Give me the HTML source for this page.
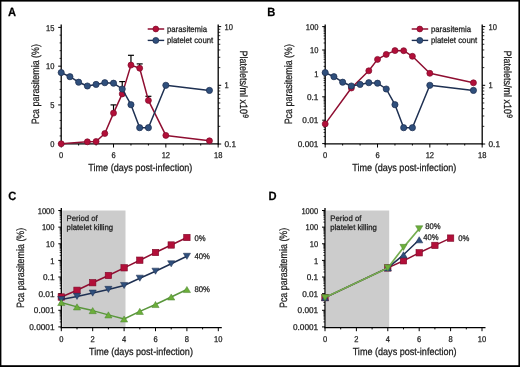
<!DOCTYPE html>
<html><head><meta charset="utf-8"><style>html,body{margin:0;padding:0;background:#fff;width:520px;height:367px;overflow:hidden}svg{display:block;will-change:transform}</style></head><body>
<svg width="520" height="367" viewBox="0 0 520 367">
<rect x="0" y="0" width="520" height="367" fill="#fff"/>
<rect x="0" y="0" width="520" height="1.6" fill="#000"/>
<rect x="0" y="0" width="1.4" height="367" fill="#000"/>
<rect x="518.4" y="0" width="1.6" height="367" fill="#000"/>
<rect x="0" y="365.2" width="520" height="1.8" fill="#000"/>
<text x="0" y="0" transform="translate(8.00,16.20) scale(0.93,1)" font-size="12" text-anchor="start" fill="#000" font-family="Liberation Sans, sans-serif" stroke="#1a1a1a" stroke-width="0.25" text-rendering="geometricPrecision" font-weight="bold">A</text>
<text x="0" y="0" transform="translate(267.20,16.20) scale(0.93,1)" font-size="12" text-anchor="start" fill="#000" font-family="Liberation Sans, sans-serif" stroke="#1a1a1a" stroke-width="0.25" text-rendering="geometricPrecision" font-weight="bold">B</text>
<text x="0" y="0" transform="translate(8.20,200.00) scale(0.93,1)" font-size="12" text-anchor="start" fill="#000" font-family="Liberation Sans, sans-serif" stroke="#1a1a1a" stroke-width="0.25" text-rendering="geometricPrecision" font-weight="bold">C</text>
<text x="0" y="0" transform="translate(268.60,200.00) scale(0.93,1)" font-size="12" text-anchor="start" fill="#000" font-family="Liberation Sans, sans-serif" stroke="#1a1a1a" stroke-width="0.25" text-rendering="geometricPrecision" font-weight="bold">D</text>
<line x1="61.20" y1="24.50" x2="61.20" y2="144.50" stroke="#000" stroke-width="1.3"/>
<line x1="60.60" y1="143.90" x2="218.80" y2="143.90" stroke="#000" stroke-width="1.3"/>
<line x1="218.20" y1="24.50" x2="218.20" y2="144.50" stroke="#000" stroke-width="1.3"/>
<line x1="61.20" y1="143.90" x2="61.20" y2="147.50" stroke="#000" stroke-width="1"/>
<line x1="78.64" y1="143.90" x2="78.64" y2="145.50" stroke="#000" stroke-width="1"/>
<line x1="96.08" y1="143.90" x2="96.08" y2="145.50" stroke="#000" stroke-width="1"/>
<line x1="113.52" y1="143.90" x2="113.52" y2="147.50" stroke="#000" stroke-width="1"/>
<line x1="130.96" y1="143.90" x2="130.96" y2="145.50" stroke="#000" stroke-width="1"/>
<line x1="148.40" y1="143.90" x2="148.40" y2="145.50" stroke="#000" stroke-width="1"/>
<line x1="165.84" y1="143.90" x2="165.84" y2="147.50" stroke="#000" stroke-width="1"/>
<line x1="183.28" y1="143.90" x2="183.28" y2="145.50" stroke="#000" stroke-width="1"/>
<line x1="200.72" y1="143.90" x2="200.72" y2="145.50" stroke="#000" stroke-width="1"/>
<line x1="218.16" y1="143.90" x2="218.16" y2="147.50" stroke="#000" stroke-width="1"/>
<text x="0" y="0" transform="translate(61.20,158.30) scale(0.9,1)" font-size="8.4" text-anchor="middle" fill="#1a1a1a" font-family="Liberation Sans, sans-serif" stroke="#1a1a1a" stroke-width="0.25" text-rendering="geometricPrecision" >0</text>
<text x="0" y="0" transform="translate(113.52,158.30) scale(0.9,1)" font-size="8.4" text-anchor="middle" fill="#1a1a1a" font-family="Liberation Sans, sans-serif" stroke="#1a1a1a" stroke-width="0.25" text-rendering="geometricPrecision" >6</text>
<text x="0" y="0" transform="translate(165.84,158.30) scale(0.9,1)" font-size="8.4" text-anchor="middle" fill="#1a1a1a" font-family="Liberation Sans, sans-serif" stroke="#1a1a1a" stroke-width="0.25" text-rendering="geometricPrecision" >12</text>
<text x="0" y="0" transform="translate(218.16,158.30) scale(0.9,1)" font-size="8.4" text-anchor="middle" fill="#1a1a1a" font-family="Liberation Sans, sans-serif" stroke="#1a1a1a" stroke-width="0.25" text-rendering="geometricPrecision" >18</text>
<text x="0" y="0" transform="translate(140.30,171.00) scale(0.89,1)" font-size="10.2" text-anchor="middle" fill="#1a1a1a" font-family="Liberation Sans, sans-serif" stroke="#1a1a1a" stroke-width="0.25" text-rendering="geometricPrecision" >Time (days post-infection)</text>
<line x1="218.20" y1="144.00" x2="221.20" y2="144.00" stroke="#000" stroke-width="1"/>
<line x1="218.20" y1="85.30" x2="221.20" y2="85.30" stroke="#000" stroke-width="1"/>
<line x1="218.20" y1="26.60" x2="221.20" y2="26.60" stroke="#000" stroke-width="1"/>
<line x1="218.20" y1="126.33" x2="220.30" y2="126.33" stroke="#000" stroke-width="0.8"/>
<line x1="218.20" y1="115.99" x2="220.30" y2="115.99" stroke="#000" stroke-width="0.8"/>
<line x1="218.20" y1="108.66" x2="220.30" y2="108.66" stroke="#000" stroke-width="0.8"/>
<line x1="218.20" y1="102.97" x2="220.30" y2="102.97" stroke="#000" stroke-width="0.8"/>
<line x1="218.20" y1="98.32" x2="220.30" y2="98.32" stroke="#000" stroke-width="0.8"/>
<line x1="218.20" y1="94.39" x2="220.30" y2="94.39" stroke="#000" stroke-width="0.8"/>
<line x1="218.20" y1="90.99" x2="220.30" y2="90.99" stroke="#000" stroke-width="0.8"/>
<line x1="218.20" y1="87.99" x2="220.30" y2="87.99" stroke="#000" stroke-width="0.8"/>
<line x1="218.20" y1="67.63" x2="220.30" y2="67.63" stroke="#000" stroke-width="0.8"/>
<line x1="218.20" y1="57.29" x2="220.30" y2="57.29" stroke="#000" stroke-width="0.8"/>
<line x1="218.20" y1="49.96" x2="220.30" y2="49.96" stroke="#000" stroke-width="0.8"/>
<line x1="218.20" y1="44.27" x2="220.30" y2="44.27" stroke="#000" stroke-width="0.8"/>
<line x1="218.20" y1="39.62" x2="220.30" y2="39.62" stroke="#000" stroke-width="0.8"/>
<line x1="218.20" y1="35.69" x2="220.30" y2="35.69" stroke="#000" stroke-width="0.8"/>
<line x1="218.20" y1="32.29" x2="220.30" y2="32.29" stroke="#000" stroke-width="0.8"/>
<line x1="218.20" y1="29.29" x2="220.30" y2="29.29" stroke="#000" stroke-width="0.8"/>
<text x="0" y="0" transform="translate(224.50,29.60) scale(0.9,1)" font-size="8.4" text-anchor="start" fill="#1a1a1a" font-family="Liberation Sans, sans-serif" stroke="#1a1a1a" stroke-width="0.25" text-rendering="geometricPrecision" >10</text>
<text x="0" y="0" transform="translate(224.50,88.30) scale(0.9,1)" font-size="8.4" text-anchor="start" fill="#1a1a1a" font-family="Liberation Sans, sans-serif" stroke="#1a1a1a" stroke-width="0.25" text-rendering="geometricPrecision" >1</text>
<text x="0" y="0" transform="translate(224.50,147.00) scale(0.985,1)" font-size="8.4" text-anchor="start" fill="#1a1a1a" font-family="Liberation Sans, sans-serif" stroke="#1a1a1a" stroke-width="0.25" text-rendering="geometricPrecision" >0.1</text>
<text transform="translate(239.5,84.3) rotate(90) scale(0.85,1)" font-size="10.6" text-anchor="middle" fill="#1a1a1a" font-family="Liberation Sans, sans-serif" stroke="#1a1a1a" stroke-width="0.25" text-rendering="geometricPrecision">Platelets/ml x10<tspan dy="-3.6" dx="0.3" font-size="8">9</tspan></text>
<text transform="translate(39.4,84.2) rotate(-90) scale(0.842,1)" font-size="10.6" text-anchor="middle" fill="#1a1a1a" font-family="Liberation Sans, sans-serif" stroke="#1a1a1a" stroke-width="0.25" text-rendering="geometricPrecision">Pca parasitemia (%)</text>
<line x1="147.70" y1="29.00" x2="164.20" y2="29.00" stroke="#8f0e31" stroke-width="1.5"/>
<circle cx="155.80" cy="29.00" r="2.9000000000000004" fill="#b20f39" stroke="#7e0a2a" stroke-width="0.7"/>
<line x1="147.70" y1="40.40" x2="164.20" y2="40.40" stroke="#1e3052" stroke-width="1.4"/>
<circle cx="155.80" cy="40.40" r="3.0" fill="#2f4f7c" stroke="#1c2c4e" stroke-width="0.7"/>
<text x="0" y="0" transform="translate(166.90,31.90) scale(0.934,1)" font-size="8.35" text-anchor="start" fill="#1a1a1a" font-family="Liberation Sans, sans-serif" stroke="#1a1a1a" stroke-width="0.25" text-rendering="geometricPrecision" >parasitemia</text>
<text x="0" y="0" transform="translate(166.90,43.10) scale(0.934,1)" font-size="8.35" text-anchor="start" fill="#1a1a1a" font-family="Liberation Sans, sans-serif" stroke="#1a1a1a" stroke-width="0.25" text-rendering="geometricPrecision" >platelet count</text>
<line x1="58.20" y1="143.70" x2="61.20" y2="143.70" stroke="#000" stroke-width="1"/>
<line x1="59.60" y1="135.95" x2="61.20" y2="135.95" stroke="#000" stroke-width="0.8"/>
<line x1="59.60" y1="128.19" x2="61.20" y2="128.19" stroke="#000" stroke-width="0.8"/>
<line x1="59.60" y1="120.44" x2="61.20" y2="120.44" stroke="#000" stroke-width="0.8"/>
<line x1="59.60" y1="112.69" x2="61.20" y2="112.69" stroke="#000" stroke-width="0.8"/>
<line x1="58.20" y1="104.93" x2="61.20" y2="104.93" stroke="#000" stroke-width="1"/>
<line x1="59.60" y1="97.18" x2="61.20" y2="97.18" stroke="#000" stroke-width="0.8"/>
<line x1="59.60" y1="89.43" x2="61.20" y2="89.43" stroke="#000" stroke-width="0.8"/>
<line x1="59.60" y1="81.68" x2="61.20" y2="81.68" stroke="#000" stroke-width="0.8"/>
<line x1="59.60" y1="73.92" x2="61.20" y2="73.92" stroke="#000" stroke-width="0.8"/>
<line x1="58.20" y1="66.17" x2="61.20" y2="66.17" stroke="#000" stroke-width="1"/>
<line x1="59.60" y1="58.42" x2="61.20" y2="58.42" stroke="#000" stroke-width="0.8"/>
<line x1="59.60" y1="50.66" x2="61.20" y2="50.66" stroke="#000" stroke-width="0.8"/>
<line x1="59.60" y1="42.91" x2="61.20" y2="42.91" stroke="#000" stroke-width="0.8"/>
<line x1="59.60" y1="35.16" x2="61.20" y2="35.16" stroke="#000" stroke-width="0.8"/>
<line x1="58.20" y1="27.40" x2="61.20" y2="27.40" stroke="#000" stroke-width="1"/>
<text x="0" y="0" transform="translate(54.40,146.80) scale(0.9,1)" font-size="8.4" text-anchor="end" fill="#1a1a1a" font-family="Liberation Sans, sans-serif" stroke="#1a1a1a" stroke-width="0.25" text-rendering="geometricPrecision" >0</text>
<text x="0" y="0" transform="translate(54.40,108.03) scale(0.9,1)" font-size="8.4" text-anchor="end" fill="#1a1a1a" font-family="Liberation Sans, sans-serif" stroke="#1a1a1a" stroke-width="0.25" text-rendering="geometricPrecision" >5</text>
<text x="0" y="0" transform="translate(54.40,69.27) scale(0.9,1)" font-size="8.4" text-anchor="end" fill="#1a1a1a" font-family="Liberation Sans, sans-serif" stroke="#1a1a1a" stroke-width="0.25" text-rendering="geometricPrecision" >10</text>
<text x="0" y="0" transform="translate(54.40,30.50) scale(0.9,1)" font-size="8.4" text-anchor="end" fill="#1a1a1a" font-family="Liberation Sans, sans-serif" stroke="#1a1a1a" stroke-width="0.25" text-rendering="geometricPrecision" >15</text>
<line x1="113.52" y1="113.10" x2="113.52" y2="104.90" stroke="#000" stroke-width="1.2"/>
<line x1="110.52" y1="104.90" x2="116.52" y2="104.90" stroke="#000" stroke-width="1.2"/>
<line x1="122.24" y1="93.90" x2="122.24" y2="81.60" stroke="#000" stroke-width="1.2"/>
<line x1="119.24" y1="81.60" x2="125.24" y2="81.60" stroke="#000" stroke-width="1.2"/>
<line x1="130.96" y1="65.10" x2="130.96" y2="55.30" stroke="#000" stroke-width="1.2"/>
<line x1="127.96" y1="55.30" x2="133.96" y2="55.30" stroke="#000" stroke-width="1.2"/>
<line x1="139.68" y1="68.20" x2="139.68" y2="63.90" stroke="#000" stroke-width="1.2"/>
<line x1="136.68" y1="63.90" x2="142.68" y2="63.90" stroke="#000" stroke-width="1.2"/>
<line x1="148.40" y1="100.40" x2="148.40" y2="96.30" stroke="#000" stroke-width="1.2"/>
<line x1="145.40" y1="96.30" x2="151.40" y2="96.30" stroke="#000" stroke-width="1.2"/>
<polyline fill="none" stroke="#8f0e31" stroke-width="1.5" stroke-linejoin="round" points="61.20,143.80 87.36,141.80 96.08,141.50 104.80,133.50 113.52,113.10 122.24,93.90 130.96,65.10 139.68,68.20 148.40,100.40 165.84,135.40 209.44,140.80"/>
<circle cx="61.20" cy="143.80" r="3.0" fill="#b20f39" stroke="#7e0a2a" stroke-width="0.7"/>
<circle cx="87.36" cy="141.80" r="3.0" fill="#b20f39" stroke="#7e0a2a" stroke-width="0.7"/>
<circle cx="96.08" cy="141.50" r="3.0" fill="#b20f39" stroke="#7e0a2a" stroke-width="0.7"/>
<circle cx="104.80" cy="133.50" r="3.0" fill="#b20f39" stroke="#7e0a2a" stroke-width="0.7"/>
<circle cx="113.52" cy="113.10" r="3.0" fill="#b20f39" stroke="#7e0a2a" stroke-width="0.7"/>
<circle cx="122.24" cy="93.90" r="3.0" fill="#b20f39" stroke="#7e0a2a" stroke-width="0.7"/>
<circle cx="130.96" cy="65.10" r="3.0" fill="#b20f39" stroke="#7e0a2a" stroke-width="0.7"/>
<circle cx="139.68" cy="68.20" r="3.0" fill="#b20f39" stroke="#7e0a2a" stroke-width="0.7"/>
<circle cx="148.40" cy="100.40" r="3.0" fill="#b20f39" stroke="#7e0a2a" stroke-width="0.7"/>
<circle cx="165.84" cy="135.40" r="3.0" fill="#b20f39" stroke="#7e0a2a" stroke-width="0.7"/>
<circle cx="209.44" cy="140.80" r="3.0" fill="#b20f39" stroke="#7e0a2a" stroke-width="0.7"/>
<polyline fill="none" stroke="#1e3052" stroke-width="1.5" stroke-linejoin="round" points="61.20,72.60 69.92,76.70 78.64,82.20 87.36,86.00 96.08,84.40 104.80,82.70 113.52,83.20 122.24,89.00 130.96,104.70 139.68,127.70 148.40,127.70 165.84,85.30 209.44,90.40"/>
<circle cx="61.20" cy="72.60" r="3.1" fill="#2f4f7c" stroke="#1c2c4e" stroke-width="0.7"/>
<circle cx="69.92" cy="76.70" r="3.1" fill="#2f4f7c" stroke="#1c2c4e" stroke-width="0.7"/>
<circle cx="78.64" cy="82.20" r="3.1" fill="#2f4f7c" stroke="#1c2c4e" stroke-width="0.7"/>
<circle cx="87.36" cy="86.00" r="3.1" fill="#2f4f7c" stroke="#1c2c4e" stroke-width="0.7"/>
<circle cx="96.08" cy="84.40" r="3.1" fill="#2f4f7c" stroke="#1c2c4e" stroke-width="0.7"/>
<circle cx="104.80" cy="82.70" r="3.1" fill="#2f4f7c" stroke="#1c2c4e" stroke-width="0.7"/>
<circle cx="113.52" cy="83.20" r="3.1" fill="#2f4f7c" stroke="#1c2c4e" stroke-width="0.7"/>
<circle cx="122.24" cy="89.00" r="3.1" fill="#2f4f7c" stroke="#1c2c4e" stroke-width="0.7"/>
<circle cx="130.96" cy="104.70" r="3.1" fill="#2f4f7c" stroke="#1c2c4e" stroke-width="0.7"/>
<circle cx="139.68" cy="127.70" r="3.1" fill="#2f4f7c" stroke="#1c2c4e" stroke-width="0.7"/>
<circle cx="148.40" cy="127.70" r="3.1" fill="#2f4f7c" stroke="#1c2c4e" stroke-width="0.7"/>
<circle cx="165.84" cy="85.30" r="3.1" fill="#2f4f7c" stroke="#1c2c4e" stroke-width="0.7"/>
<circle cx="209.44" cy="90.40" r="3.1" fill="#2f4f7c" stroke="#1c2c4e" stroke-width="0.7"/>
<line x1="325.20" y1="24.50" x2="325.20" y2="144.50" stroke="#000" stroke-width="1.3"/>
<line x1="324.60" y1="143.90" x2="482.80" y2="143.90" stroke="#000" stroke-width="1.3"/>
<line x1="482.20" y1="24.50" x2="482.20" y2="144.50" stroke="#000" stroke-width="1.3"/>
<line x1="325.20" y1="143.90" x2="325.20" y2="147.50" stroke="#000" stroke-width="1"/>
<line x1="342.64" y1="143.90" x2="342.64" y2="145.50" stroke="#000" stroke-width="1"/>
<line x1="360.08" y1="143.90" x2="360.08" y2="145.50" stroke="#000" stroke-width="1"/>
<line x1="377.52" y1="143.90" x2="377.52" y2="147.50" stroke="#000" stroke-width="1"/>
<line x1="394.96" y1="143.90" x2="394.96" y2="145.50" stroke="#000" stroke-width="1"/>
<line x1="412.40" y1="143.90" x2="412.40" y2="145.50" stroke="#000" stroke-width="1"/>
<line x1="429.84" y1="143.90" x2="429.84" y2="147.50" stroke="#000" stroke-width="1"/>
<line x1="447.28" y1="143.90" x2="447.28" y2="145.50" stroke="#000" stroke-width="1"/>
<line x1="464.72" y1="143.90" x2="464.72" y2="145.50" stroke="#000" stroke-width="1"/>
<line x1="482.16" y1="143.90" x2="482.16" y2="147.50" stroke="#000" stroke-width="1"/>
<text x="0" y="0" transform="translate(325.20,158.30) scale(0.9,1)" font-size="8.4" text-anchor="middle" fill="#1a1a1a" font-family="Liberation Sans, sans-serif" stroke="#1a1a1a" stroke-width="0.25" text-rendering="geometricPrecision" >0</text>
<text x="0" y="0" transform="translate(377.52,158.30) scale(0.9,1)" font-size="8.4" text-anchor="middle" fill="#1a1a1a" font-family="Liberation Sans, sans-serif" stroke="#1a1a1a" stroke-width="0.25" text-rendering="geometricPrecision" >6</text>
<text x="0" y="0" transform="translate(429.84,158.30) scale(0.9,1)" font-size="8.4" text-anchor="middle" fill="#1a1a1a" font-family="Liberation Sans, sans-serif" stroke="#1a1a1a" stroke-width="0.25" text-rendering="geometricPrecision" >12</text>
<text x="0" y="0" transform="translate(482.16,158.30) scale(0.9,1)" font-size="8.4" text-anchor="middle" fill="#1a1a1a" font-family="Liberation Sans, sans-serif" stroke="#1a1a1a" stroke-width="0.25" text-rendering="geometricPrecision" >18</text>
<text x="0" y="0" transform="translate(404.30,171.00) scale(0.89,1)" font-size="10.2" text-anchor="middle" fill="#1a1a1a" font-family="Liberation Sans, sans-serif" stroke="#1a1a1a" stroke-width="0.25" text-rendering="geometricPrecision" >Time (days post-infection)</text>
<line x1="482.20" y1="144.00" x2="485.20" y2="144.00" stroke="#000" stroke-width="1"/>
<line x1="482.20" y1="85.30" x2="485.20" y2="85.30" stroke="#000" stroke-width="1"/>
<line x1="482.20" y1="26.60" x2="485.20" y2="26.60" stroke="#000" stroke-width="1"/>
<line x1="482.20" y1="126.33" x2="484.30" y2="126.33" stroke="#000" stroke-width="0.8"/>
<line x1="482.20" y1="115.99" x2="484.30" y2="115.99" stroke="#000" stroke-width="0.8"/>
<line x1="482.20" y1="108.66" x2="484.30" y2="108.66" stroke="#000" stroke-width="0.8"/>
<line x1="482.20" y1="102.97" x2="484.30" y2="102.97" stroke="#000" stroke-width="0.8"/>
<line x1="482.20" y1="98.32" x2="484.30" y2="98.32" stroke="#000" stroke-width="0.8"/>
<line x1="482.20" y1="94.39" x2="484.30" y2="94.39" stroke="#000" stroke-width="0.8"/>
<line x1="482.20" y1="90.99" x2="484.30" y2="90.99" stroke="#000" stroke-width="0.8"/>
<line x1="482.20" y1="87.99" x2="484.30" y2="87.99" stroke="#000" stroke-width="0.8"/>
<line x1="482.20" y1="67.63" x2="484.30" y2="67.63" stroke="#000" stroke-width="0.8"/>
<line x1="482.20" y1="57.29" x2="484.30" y2="57.29" stroke="#000" stroke-width="0.8"/>
<line x1="482.20" y1="49.96" x2="484.30" y2="49.96" stroke="#000" stroke-width="0.8"/>
<line x1="482.20" y1="44.27" x2="484.30" y2="44.27" stroke="#000" stroke-width="0.8"/>
<line x1="482.20" y1="39.62" x2="484.30" y2="39.62" stroke="#000" stroke-width="0.8"/>
<line x1="482.20" y1="35.69" x2="484.30" y2="35.69" stroke="#000" stroke-width="0.8"/>
<line x1="482.20" y1="32.29" x2="484.30" y2="32.29" stroke="#000" stroke-width="0.8"/>
<line x1="482.20" y1="29.29" x2="484.30" y2="29.29" stroke="#000" stroke-width="0.8"/>
<text x="0" y="0" transform="translate(488.50,29.60) scale(0.9,1)" font-size="8.4" text-anchor="start" fill="#1a1a1a" font-family="Liberation Sans, sans-serif" stroke="#1a1a1a" stroke-width="0.25" text-rendering="geometricPrecision" >10</text>
<text x="0" y="0" transform="translate(488.50,88.30) scale(0.9,1)" font-size="8.4" text-anchor="start" fill="#1a1a1a" font-family="Liberation Sans, sans-serif" stroke="#1a1a1a" stroke-width="0.25" text-rendering="geometricPrecision" >1</text>
<text x="0" y="0" transform="translate(488.50,147.00) scale(0.985,1)" font-size="8.4" text-anchor="start" fill="#1a1a1a" font-family="Liberation Sans, sans-serif" stroke="#1a1a1a" stroke-width="0.25" text-rendering="geometricPrecision" >0.1</text>
<text transform="translate(503.5,84.3) rotate(90) scale(0.85,1)" font-size="10.6" text-anchor="middle" fill="#1a1a1a" font-family="Liberation Sans, sans-serif" stroke="#1a1a1a" stroke-width="0.25" text-rendering="geometricPrecision">Platelets/ml x10<tspan dy="-3.6" dx="0.3" font-size="8">9</tspan></text>
<text transform="translate(292.4,84.2) rotate(-90) scale(0.842,1)" font-size="10.6" text-anchor="middle" fill="#1a1a1a" font-family="Liberation Sans, sans-serif" stroke="#1a1a1a" stroke-width="0.25" text-rendering="geometricPrecision">Pca parasitemia (%)</text>
<line x1="411.70" y1="29.00" x2="428.20" y2="29.00" stroke="#8f0e31" stroke-width="1.5"/>
<circle cx="419.80" cy="29.00" r="2.9000000000000004" fill="#b20f39" stroke="#7e0a2a" stroke-width="0.7"/>
<line x1="411.70" y1="40.40" x2="428.20" y2="40.40" stroke="#1e3052" stroke-width="1.4"/>
<circle cx="419.80" cy="40.40" r="3.0" fill="#2f4f7c" stroke="#1c2c4e" stroke-width="0.7"/>
<text x="0" y="0" transform="translate(430.90,31.90) scale(0.934,1)" font-size="8.35" text-anchor="start" fill="#1a1a1a" font-family="Liberation Sans, sans-serif" stroke="#1a1a1a" stroke-width="0.25" text-rendering="geometricPrecision" >parasitemia</text>
<text x="0" y="0" transform="translate(430.90,43.10) scale(0.934,1)" font-size="8.35" text-anchor="start" fill="#1a1a1a" font-family="Liberation Sans, sans-serif" stroke="#1a1a1a" stroke-width="0.25" text-rendering="geometricPrecision" >platelet count</text>
<line x1="322.20" y1="143.60" x2="325.20" y2="143.60" stroke="#000" stroke-width="1"/>
<line x1="323.60" y1="136.56" x2="325.20" y2="136.56" stroke="#000" stroke-width="0.8"/>
<line x1="323.60" y1="132.44" x2="325.20" y2="132.44" stroke="#000" stroke-width="0.8"/>
<line x1="323.60" y1="129.51" x2="325.20" y2="129.51" stroke="#000" stroke-width="0.8"/>
<line x1="323.60" y1="127.24" x2="325.20" y2="127.24" stroke="#000" stroke-width="0.8"/>
<line x1="323.60" y1="125.39" x2="325.20" y2="125.39" stroke="#000" stroke-width="0.8"/>
<line x1="323.60" y1="123.82" x2="325.20" y2="123.82" stroke="#000" stroke-width="0.8"/>
<line x1="323.60" y1="122.47" x2="325.20" y2="122.47" stroke="#000" stroke-width="0.8"/>
<line x1="323.60" y1="121.27" x2="325.20" y2="121.27" stroke="#000" stroke-width="0.8"/>
<line x1="322.20" y1="120.20" x2="325.20" y2="120.20" stroke="#000" stroke-width="1"/>
<line x1="323.60" y1="113.16" x2="325.20" y2="113.16" stroke="#000" stroke-width="0.8"/>
<line x1="323.60" y1="109.04" x2="325.20" y2="109.04" stroke="#000" stroke-width="0.8"/>
<line x1="323.60" y1="106.11" x2="325.20" y2="106.11" stroke="#000" stroke-width="0.8"/>
<line x1="323.60" y1="103.84" x2="325.20" y2="103.84" stroke="#000" stroke-width="0.8"/>
<line x1="323.60" y1="101.99" x2="325.20" y2="101.99" stroke="#000" stroke-width="0.8"/>
<line x1="323.60" y1="100.42" x2="325.20" y2="100.42" stroke="#000" stroke-width="0.8"/>
<line x1="323.60" y1="99.07" x2="325.20" y2="99.07" stroke="#000" stroke-width="0.8"/>
<line x1="323.60" y1="97.87" x2="325.20" y2="97.87" stroke="#000" stroke-width="0.8"/>
<line x1="322.20" y1="96.80" x2="325.20" y2="96.80" stroke="#000" stroke-width="1"/>
<line x1="323.60" y1="89.76" x2="325.20" y2="89.76" stroke="#000" stroke-width="0.8"/>
<line x1="323.60" y1="85.64" x2="325.20" y2="85.64" stroke="#000" stroke-width="0.8"/>
<line x1="323.60" y1="82.71" x2="325.20" y2="82.71" stroke="#000" stroke-width="0.8"/>
<line x1="323.60" y1="80.44" x2="325.20" y2="80.44" stroke="#000" stroke-width="0.8"/>
<line x1="323.60" y1="78.59" x2="325.20" y2="78.59" stroke="#000" stroke-width="0.8"/>
<line x1="323.60" y1="77.02" x2="325.20" y2="77.02" stroke="#000" stroke-width="0.8"/>
<line x1="323.60" y1="75.67" x2="325.20" y2="75.67" stroke="#000" stroke-width="0.8"/>
<line x1="323.60" y1="74.47" x2="325.20" y2="74.47" stroke="#000" stroke-width="0.8"/>
<line x1="322.20" y1="73.40" x2="325.20" y2="73.40" stroke="#000" stroke-width="1"/>
<line x1="323.60" y1="66.36" x2="325.20" y2="66.36" stroke="#000" stroke-width="0.8"/>
<line x1="323.60" y1="62.24" x2="325.20" y2="62.24" stroke="#000" stroke-width="0.8"/>
<line x1="323.60" y1="59.31" x2="325.20" y2="59.31" stroke="#000" stroke-width="0.8"/>
<line x1="323.60" y1="57.04" x2="325.20" y2="57.04" stroke="#000" stroke-width="0.8"/>
<line x1="323.60" y1="55.19" x2="325.20" y2="55.19" stroke="#000" stroke-width="0.8"/>
<line x1="323.60" y1="53.62" x2="325.20" y2="53.62" stroke="#000" stroke-width="0.8"/>
<line x1="323.60" y1="52.27" x2="325.20" y2="52.27" stroke="#000" stroke-width="0.8"/>
<line x1="323.60" y1="51.07" x2="325.20" y2="51.07" stroke="#000" stroke-width="0.8"/>
<line x1="322.20" y1="50.00" x2="325.20" y2="50.00" stroke="#000" stroke-width="1"/>
<line x1="323.60" y1="42.96" x2="325.20" y2="42.96" stroke="#000" stroke-width="0.8"/>
<line x1="323.60" y1="38.84" x2="325.20" y2="38.84" stroke="#000" stroke-width="0.8"/>
<line x1="323.60" y1="35.91" x2="325.20" y2="35.91" stroke="#000" stroke-width="0.8"/>
<line x1="323.60" y1="33.64" x2="325.20" y2="33.64" stroke="#000" stroke-width="0.8"/>
<line x1="323.60" y1="31.79" x2="325.20" y2="31.79" stroke="#000" stroke-width="0.8"/>
<line x1="323.60" y1="30.22" x2="325.20" y2="30.22" stroke="#000" stroke-width="0.8"/>
<line x1="323.60" y1="28.87" x2="325.20" y2="28.87" stroke="#000" stroke-width="0.8"/>
<line x1="323.60" y1="27.67" x2="325.20" y2="27.67" stroke="#000" stroke-width="0.8"/>
<line x1="322.20" y1="26.60" x2="325.20" y2="26.60" stroke="#000" stroke-width="1"/>
<text x="0" y="0" transform="translate(318.40,146.70) scale(0.985,1)" font-size="8.4" text-anchor="end" fill="#1a1a1a" font-family="Liberation Sans, sans-serif" stroke="#1a1a1a" stroke-width="0.25" text-rendering="geometricPrecision" >0.001</text>
<text x="0" y="0" transform="translate(318.40,123.30) scale(0.985,1)" font-size="8.4" text-anchor="end" fill="#1a1a1a" font-family="Liberation Sans, sans-serif" stroke="#1a1a1a" stroke-width="0.25" text-rendering="geometricPrecision" >0.01</text>
<text x="0" y="0" transform="translate(318.40,99.90) scale(0.985,1)" font-size="8.4" text-anchor="end" fill="#1a1a1a" font-family="Liberation Sans, sans-serif" stroke="#1a1a1a" stroke-width="0.25" text-rendering="geometricPrecision" >0.1</text>
<text x="0" y="0" transform="translate(318.40,76.50) scale(0.9,1)" font-size="8.4" text-anchor="end" fill="#1a1a1a" font-family="Liberation Sans, sans-serif" stroke="#1a1a1a" stroke-width="0.25" text-rendering="geometricPrecision" >1</text>
<text x="0" y="0" transform="translate(318.40,53.10) scale(0.9,1)" font-size="8.4" text-anchor="end" fill="#1a1a1a" font-family="Liberation Sans, sans-serif" stroke="#1a1a1a" stroke-width="0.25" text-rendering="geometricPrecision" >10</text>
<text x="0" y="0" transform="translate(318.40,29.70) scale(0.9,1)" font-size="8.4" text-anchor="end" fill="#1a1a1a" font-family="Liberation Sans, sans-serif" stroke="#1a1a1a" stroke-width="0.25" text-rendering="geometricPrecision" >100</text>
<polyline fill="none" stroke="#8f0e31" stroke-width="1.5" stroke-linejoin="round" points="325.20,123.90 351.36,88.00 368.80,70.80 377.52,59.40 386.24,54.40 394.96,50.60 403.68,50.70 412.40,56.30 429.84,73.30 473.44,82.80"/>
<circle cx="325.20" cy="123.90" r="3.0" fill="#b20f39" stroke="#7e0a2a" stroke-width="0.7"/>
<circle cx="351.36" cy="88.00" r="3.0" fill="#b20f39" stroke="#7e0a2a" stroke-width="0.7"/>
<circle cx="368.80" cy="70.80" r="3.0" fill="#b20f39" stroke="#7e0a2a" stroke-width="0.7"/>
<circle cx="377.52" cy="59.40" r="3.0" fill="#b20f39" stroke="#7e0a2a" stroke-width="0.7"/>
<circle cx="386.24" cy="54.40" r="3.0" fill="#b20f39" stroke="#7e0a2a" stroke-width="0.7"/>
<circle cx="394.96" cy="50.60" r="3.0" fill="#b20f39" stroke="#7e0a2a" stroke-width="0.7"/>
<circle cx="403.68" cy="50.70" r="3.0" fill="#b20f39" stroke="#7e0a2a" stroke-width="0.7"/>
<circle cx="412.40" cy="56.30" r="3.0" fill="#b20f39" stroke="#7e0a2a" stroke-width="0.7"/>
<circle cx="429.84" cy="73.30" r="3.0" fill="#b20f39" stroke="#7e0a2a" stroke-width="0.7"/>
<circle cx="473.44" cy="82.80" r="3.0" fill="#b20f39" stroke="#7e0a2a" stroke-width="0.7"/>
<polyline fill="none" stroke="#1e3052" stroke-width="1.5" stroke-linejoin="round" points="325.20,72.60 333.92,76.70 342.64,82.20 351.36,86.00 360.08,84.40 368.80,82.70 377.52,83.20 386.24,89.00 394.96,104.70 403.68,127.70 412.40,127.70 429.84,85.30 473.44,90.40"/>
<circle cx="325.20" cy="72.60" r="3.1" fill="#2f4f7c" stroke="#1c2c4e" stroke-width="0.7"/>
<circle cx="333.92" cy="76.70" r="3.1" fill="#2f4f7c" stroke="#1c2c4e" stroke-width="0.7"/>
<circle cx="342.64" cy="82.20" r="3.1" fill="#2f4f7c" stroke="#1c2c4e" stroke-width="0.7"/>
<circle cx="351.36" cy="86.00" r="3.1" fill="#2f4f7c" stroke="#1c2c4e" stroke-width="0.7"/>
<circle cx="360.08" cy="84.40" r="3.1" fill="#2f4f7c" stroke="#1c2c4e" stroke-width="0.7"/>
<circle cx="368.80" cy="82.70" r="3.1" fill="#2f4f7c" stroke="#1c2c4e" stroke-width="0.7"/>
<circle cx="377.52" cy="83.20" r="3.1" fill="#2f4f7c" stroke="#1c2c4e" stroke-width="0.7"/>
<circle cx="386.24" cy="89.00" r="3.1" fill="#2f4f7c" stroke="#1c2c4e" stroke-width="0.7"/>
<circle cx="394.96" cy="104.70" r="3.1" fill="#2f4f7c" stroke="#1c2c4e" stroke-width="0.7"/>
<circle cx="403.68" cy="127.70" r="3.1" fill="#2f4f7c" stroke="#1c2c4e" stroke-width="0.7"/>
<circle cx="412.40" cy="127.70" r="3.1" fill="#2f4f7c" stroke="#1c2c4e" stroke-width="0.7"/>
<circle cx="429.84" cy="85.30" r="3.1" fill="#2f4f7c" stroke="#1c2c4e" stroke-width="0.7"/>
<circle cx="473.44" cy="90.40" r="3.1" fill="#2f4f7c" stroke="#1c2c4e" stroke-width="0.7"/>
<rect x="62.30" y="210.51" width="63.20" height="117.09" fill="#cccccc"/>
<line x1="61.30" y1="208.00" x2="61.30" y2="328.20" stroke="#000" stroke-width="1.3"/>
<line x1="60.70" y1="327.60" x2="221.80" y2="327.60" stroke="#000" stroke-width="1.3"/>
<line x1="61.30" y1="327.60" x2="61.30" y2="331.20" stroke="#000" stroke-width="1"/>
<line x1="77.00" y1="327.60" x2="77.00" y2="329.40" stroke="#000" stroke-width="1"/>
<line x1="92.70" y1="327.60" x2="92.70" y2="331.20" stroke="#000" stroke-width="1"/>
<line x1="108.40" y1="327.60" x2="108.40" y2="329.40" stroke="#000" stroke-width="1"/>
<line x1="124.10" y1="327.60" x2="124.10" y2="331.20" stroke="#000" stroke-width="1"/>
<line x1="139.80" y1="327.60" x2="139.80" y2="329.40" stroke="#000" stroke-width="1"/>
<line x1="155.50" y1="327.60" x2="155.50" y2="331.20" stroke="#000" stroke-width="1"/>
<line x1="171.20" y1="327.60" x2="171.20" y2="329.40" stroke="#000" stroke-width="1"/>
<line x1="186.90" y1="327.60" x2="186.90" y2="331.20" stroke="#000" stroke-width="1"/>
<line x1="202.60" y1="327.60" x2="202.60" y2="329.40" stroke="#000" stroke-width="1"/>
<line x1="218.30" y1="327.60" x2="218.30" y2="331.20" stroke="#000" stroke-width="1"/>
<text x="0" y="0" transform="translate(61.30,341.80) scale(0.9,1)" font-size="8.4" text-anchor="middle" fill="#1a1a1a" font-family="Liberation Sans, sans-serif" stroke="#1a1a1a" stroke-width="0.25" text-rendering="geometricPrecision" >0</text>
<text x="0" y="0" transform="translate(92.70,341.80) scale(0.9,1)" font-size="8.4" text-anchor="middle" fill="#1a1a1a" font-family="Liberation Sans, sans-serif" stroke="#1a1a1a" stroke-width="0.25" text-rendering="geometricPrecision" >2</text>
<text x="0" y="0" transform="translate(124.10,341.80) scale(0.9,1)" font-size="8.4" text-anchor="middle" fill="#1a1a1a" font-family="Liberation Sans, sans-serif" stroke="#1a1a1a" stroke-width="0.25" text-rendering="geometricPrecision" >4</text>
<text x="0" y="0" transform="translate(155.50,341.80) scale(0.9,1)" font-size="8.4" text-anchor="middle" fill="#1a1a1a" font-family="Liberation Sans, sans-serif" stroke="#1a1a1a" stroke-width="0.25" text-rendering="geometricPrecision" >6</text>
<text x="0" y="0" transform="translate(186.90,341.80) scale(0.9,1)" font-size="8.4" text-anchor="middle" fill="#1a1a1a" font-family="Liberation Sans, sans-serif" stroke="#1a1a1a" stroke-width="0.25" text-rendering="geometricPrecision" >8</text>
<text x="0" y="0" transform="translate(218.30,341.80) scale(0.9,1)" font-size="8.4" text-anchor="middle" fill="#1a1a1a" font-family="Liberation Sans, sans-serif" stroke="#1a1a1a" stroke-width="0.25" text-rendering="geometricPrecision" >10</text>
<text x="0" y="0" transform="translate(140.95,354.60) scale(0.89,1)" font-size="10.2" text-anchor="middle" fill="#1a1a1a" font-family="Liberation Sans, sans-serif" stroke="#1a1a1a" stroke-width="0.25" text-rendering="geometricPrecision" >Time (days post-infection)</text>
<line x1="58.30" y1="326.92" x2="61.30" y2="326.92" stroke="#000" stroke-width="1"/>
<line x1="59.70" y1="321.91" x2="61.30" y2="321.91" stroke="#000" stroke-width="0.8"/>
<line x1="59.70" y1="318.99" x2="61.30" y2="318.99" stroke="#000" stroke-width="0.8"/>
<line x1="59.70" y1="316.91" x2="61.30" y2="316.91" stroke="#000" stroke-width="0.8"/>
<line x1="59.70" y1="315.30" x2="61.30" y2="315.30" stroke="#000" stroke-width="0.8"/>
<line x1="59.70" y1="313.98" x2="61.30" y2="313.98" stroke="#000" stroke-width="0.8"/>
<line x1="59.70" y1="312.87" x2="61.30" y2="312.87" stroke="#000" stroke-width="0.8"/>
<line x1="59.70" y1="311.90" x2="61.30" y2="311.90" stroke="#000" stroke-width="0.8"/>
<line x1="59.70" y1="311.05" x2="61.30" y2="311.05" stroke="#000" stroke-width="0.8"/>
<line x1="58.30" y1="310.29" x2="61.30" y2="310.29" stroke="#000" stroke-width="1"/>
<line x1="59.70" y1="305.28" x2="61.30" y2="305.28" stroke="#000" stroke-width="0.8"/>
<line x1="59.70" y1="302.36" x2="61.30" y2="302.36" stroke="#000" stroke-width="0.8"/>
<line x1="59.70" y1="300.28" x2="61.30" y2="300.28" stroke="#000" stroke-width="0.8"/>
<line x1="59.70" y1="298.67" x2="61.30" y2="298.67" stroke="#000" stroke-width="0.8"/>
<line x1="59.70" y1="297.35" x2="61.30" y2="297.35" stroke="#000" stroke-width="0.8"/>
<line x1="59.70" y1="296.24" x2="61.30" y2="296.24" stroke="#000" stroke-width="0.8"/>
<line x1="59.70" y1="295.27" x2="61.30" y2="295.27" stroke="#000" stroke-width="0.8"/>
<line x1="59.70" y1="294.42" x2="61.30" y2="294.42" stroke="#000" stroke-width="0.8"/>
<line x1="58.30" y1="293.66" x2="61.30" y2="293.66" stroke="#000" stroke-width="1"/>
<line x1="59.70" y1="288.65" x2="61.30" y2="288.65" stroke="#000" stroke-width="0.8"/>
<line x1="59.70" y1="285.73" x2="61.30" y2="285.73" stroke="#000" stroke-width="0.8"/>
<line x1="59.70" y1="283.65" x2="61.30" y2="283.65" stroke="#000" stroke-width="0.8"/>
<line x1="59.70" y1="282.04" x2="61.30" y2="282.04" stroke="#000" stroke-width="0.8"/>
<line x1="59.70" y1="280.72" x2="61.30" y2="280.72" stroke="#000" stroke-width="0.8"/>
<line x1="59.70" y1="279.61" x2="61.30" y2="279.61" stroke="#000" stroke-width="0.8"/>
<line x1="59.70" y1="278.64" x2="61.30" y2="278.64" stroke="#000" stroke-width="0.8"/>
<line x1="59.70" y1="277.79" x2="61.30" y2="277.79" stroke="#000" stroke-width="0.8"/>
<line x1="58.30" y1="277.03" x2="61.30" y2="277.03" stroke="#000" stroke-width="1"/>
<line x1="59.70" y1="272.02" x2="61.30" y2="272.02" stroke="#000" stroke-width="0.8"/>
<line x1="59.70" y1="269.10" x2="61.30" y2="269.10" stroke="#000" stroke-width="0.8"/>
<line x1="59.70" y1="267.02" x2="61.30" y2="267.02" stroke="#000" stroke-width="0.8"/>
<line x1="59.70" y1="265.41" x2="61.30" y2="265.41" stroke="#000" stroke-width="0.8"/>
<line x1="59.70" y1="264.09" x2="61.30" y2="264.09" stroke="#000" stroke-width="0.8"/>
<line x1="59.70" y1="262.98" x2="61.30" y2="262.98" stroke="#000" stroke-width="0.8"/>
<line x1="59.70" y1="262.01" x2="61.30" y2="262.01" stroke="#000" stroke-width="0.8"/>
<line x1="59.70" y1="261.16" x2="61.30" y2="261.16" stroke="#000" stroke-width="0.8"/>
<line x1="58.30" y1="260.40" x2="61.30" y2="260.40" stroke="#000" stroke-width="1"/>
<line x1="59.70" y1="255.39" x2="61.30" y2="255.39" stroke="#000" stroke-width="0.8"/>
<line x1="59.70" y1="252.47" x2="61.30" y2="252.47" stroke="#000" stroke-width="0.8"/>
<line x1="59.70" y1="250.39" x2="61.30" y2="250.39" stroke="#000" stroke-width="0.8"/>
<line x1="59.70" y1="248.78" x2="61.30" y2="248.78" stroke="#000" stroke-width="0.8"/>
<line x1="59.70" y1="247.46" x2="61.30" y2="247.46" stroke="#000" stroke-width="0.8"/>
<line x1="59.70" y1="246.35" x2="61.30" y2="246.35" stroke="#000" stroke-width="0.8"/>
<line x1="59.70" y1="245.38" x2="61.30" y2="245.38" stroke="#000" stroke-width="0.8"/>
<line x1="59.70" y1="244.53" x2="61.30" y2="244.53" stroke="#000" stroke-width="0.8"/>
<line x1="58.30" y1="243.77" x2="61.30" y2="243.77" stroke="#000" stroke-width="1"/>
<line x1="59.70" y1="238.76" x2="61.30" y2="238.76" stroke="#000" stroke-width="0.8"/>
<line x1="59.70" y1="235.84" x2="61.30" y2="235.84" stroke="#000" stroke-width="0.8"/>
<line x1="59.70" y1="233.76" x2="61.30" y2="233.76" stroke="#000" stroke-width="0.8"/>
<line x1="59.70" y1="232.15" x2="61.30" y2="232.15" stroke="#000" stroke-width="0.8"/>
<line x1="59.70" y1="230.83" x2="61.30" y2="230.83" stroke="#000" stroke-width="0.8"/>
<line x1="59.70" y1="229.72" x2="61.30" y2="229.72" stroke="#000" stroke-width="0.8"/>
<line x1="59.70" y1="228.75" x2="61.30" y2="228.75" stroke="#000" stroke-width="0.8"/>
<line x1="59.70" y1="227.90" x2="61.30" y2="227.90" stroke="#000" stroke-width="0.8"/>
<line x1="58.30" y1="227.14" x2="61.30" y2="227.14" stroke="#000" stroke-width="1"/>
<line x1="59.70" y1="222.13" x2="61.30" y2="222.13" stroke="#000" stroke-width="0.8"/>
<line x1="59.70" y1="219.21" x2="61.30" y2="219.21" stroke="#000" stroke-width="0.8"/>
<line x1="59.70" y1="217.13" x2="61.30" y2="217.13" stroke="#000" stroke-width="0.8"/>
<line x1="59.70" y1="215.52" x2="61.30" y2="215.52" stroke="#000" stroke-width="0.8"/>
<line x1="59.70" y1="214.20" x2="61.30" y2="214.20" stroke="#000" stroke-width="0.8"/>
<line x1="59.70" y1="213.09" x2="61.30" y2="213.09" stroke="#000" stroke-width="0.8"/>
<line x1="59.70" y1="212.12" x2="61.30" y2="212.12" stroke="#000" stroke-width="0.8"/>
<line x1="59.70" y1="211.27" x2="61.30" y2="211.27" stroke="#000" stroke-width="0.8"/>
<line x1="58.30" y1="210.51" x2="61.30" y2="210.51" stroke="#000" stroke-width="1"/>
<text x="0" y="0" transform="translate(54.50,330.02) scale(0.985,1)" font-size="8.4" text-anchor="end" fill="#1a1a1a" font-family="Liberation Sans, sans-serif" stroke="#1a1a1a" stroke-width="0.25" text-rendering="geometricPrecision" >0.0001</text>
<text x="0" y="0" transform="translate(54.50,313.39) scale(0.985,1)" font-size="8.4" text-anchor="end" fill="#1a1a1a" font-family="Liberation Sans, sans-serif" stroke="#1a1a1a" stroke-width="0.25" text-rendering="geometricPrecision" >0.001</text>
<text x="0" y="0" transform="translate(54.50,296.76) scale(0.985,1)" font-size="8.4" text-anchor="end" fill="#1a1a1a" font-family="Liberation Sans, sans-serif" stroke="#1a1a1a" stroke-width="0.25" text-rendering="geometricPrecision" >0.01</text>
<text x="0" y="0" transform="translate(54.50,280.13) scale(0.985,1)" font-size="8.4" text-anchor="end" fill="#1a1a1a" font-family="Liberation Sans, sans-serif" stroke="#1a1a1a" stroke-width="0.25" text-rendering="geometricPrecision" >0.1</text>
<text x="0" y="0" transform="translate(54.50,263.50) scale(0.9,1)" font-size="8.4" text-anchor="end" fill="#1a1a1a" font-family="Liberation Sans, sans-serif" stroke="#1a1a1a" stroke-width="0.25" text-rendering="geometricPrecision" >1</text>
<text x="0" y="0" transform="translate(54.50,246.87) scale(0.9,1)" font-size="8.4" text-anchor="end" fill="#1a1a1a" font-family="Liberation Sans, sans-serif" stroke="#1a1a1a" stroke-width="0.25" text-rendering="geometricPrecision" >10</text>
<text x="0" y="0" transform="translate(54.50,230.24) scale(0.9,1)" font-size="8.4" text-anchor="end" fill="#1a1a1a" font-family="Liberation Sans, sans-serif" stroke="#1a1a1a" stroke-width="0.25" text-rendering="geometricPrecision" >100</text>
<text x="0" y="0" transform="translate(54.50,213.61) scale(0.9,1)" font-size="8.4" text-anchor="end" fill="#1a1a1a" font-family="Liberation Sans, sans-serif" stroke="#1a1a1a" stroke-width="0.25" text-rendering="geometricPrecision" >1000</text>
<text transform="translate(23.5,267.9) rotate(-90) scale(0.842,1)" font-size="10.6" text-anchor="middle" fill="#1a1a1a" font-family="Liberation Sans, sans-serif" stroke="#1a1a1a" stroke-width="0.25" text-rendering="geometricPrecision">Pca parasitemia (%)</text>
<text x="0" y="0" transform="translate(66.60,220.90) scale(0.97,1)" font-size="8.0" text-anchor="start" fill="#1a1a1a" font-family="Liberation Sans, sans-serif" stroke="#1a1a1a" stroke-width="0.25" text-rendering="geometricPrecision" >Period of</text>
<text x="0" y="0" transform="translate(66.60,230.40) scale(0.97,1)" font-size="8.0" text-anchor="start" fill="#1a1a1a" font-family="Liberation Sans, sans-serif" stroke="#1a1a1a" stroke-width="0.25" text-rendering="geometricPrecision" >platelet killing</text>
<polyline fill="none" stroke="#8f0e31" stroke-width="1.5" stroke-linejoin="round" points="61.30,297.00 77.00,290.30 92.70,282.70 108.40,275.50 124.10,267.80 139.80,260.20 155.50,252.50 171.20,245.00 186.90,237.50"/>
<rect x="58.10" y="293.80" width="6.4" height="6.4" fill="#b20f39" stroke="#7e0a2a" stroke-width="0.6"/>
<rect x="73.80" y="287.10" width="6.4" height="6.4" fill="#b20f39" stroke="#7e0a2a" stroke-width="0.6"/>
<rect x="89.50" y="279.50" width="6.4" height="6.4" fill="#b20f39" stroke="#7e0a2a" stroke-width="0.6"/>
<rect x="105.20" y="272.30" width="6.4" height="6.4" fill="#b20f39" stroke="#7e0a2a" stroke-width="0.6"/>
<rect x="120.90" y="264.60" width="6.4" height="6.4" fill="#b20f39" stroke="#7e0a2a" stroke-width="0.6"/>
<rect x="136.60" y="257.00" width="6.4" height="6.4" fill="#b20f39" stroke="#7e0a2a" stroke-width="0.6"/>
<rect x="152.30" y="249.30" width="6.4" height="6.4" fill="#b20f39" stroke="#7e0a2a" stroke-width="0.6"/>
<rect x="168.00" y="241.80" width="6.4" height="6.4" fill="#b20f39" stroke="#7e0a2a" stroke-width="0.6"/>
<rect x="183.70" y="234.30" width="6.4" height="6.4" fill="#b20f39" stroke="#7e0a2a" stroke-width="0.6"/>
<polyline fill="none" stroke="#1e3052" stroke-width="1.5" stroke-linejoin="round" points="61.30,299.50 77.00,296.40 92.70,293.10 108.40,289.40 124.10,285.50 139.80,278.20 155.50,271.20 171.20,263.80 186.90,256.30"/>
<polygon fill="#2f4f7c" stroke="#1c2c4e" stroke-width="0.5" stroke-linejoin="round" points="57.70,296.44 64.90,296.44 61.30,302.56"/>
<polygon fill="#2f4f7c" stroke="#1c2c4e" stroke-width="0.5" stroke-linejoin="round" points="73.40,293.34 80.60,293.34 77.00,299.46"/>
<polygon fill="#2f4f7c" stroke="#1c2c4e" stroke-width="0.5" stroke-linejoin="round" points="89.10,290.04 96.30,290.04 92.70,296.16"/>
<polygon fill="#2f4f7c" stroke="#1c2c4e" stroke-width="0.5" stroke-linejoin="round" points="104.80,286.34 112.00,286.34 108.40,292.46"/>
<polygon fill="#2f4f7c" stroke="#1c2c4e" stroke-width="0.5" stroke-linejoin="round" points="120.50,282.44 127.70,282.44 124.10,288.56"/>
<polygon fill="#2f4f7c" stroke="#1c2c4e" stroke-width="0.5" stroke-linejoin="round" points="136.20,275.14 143.40,275.14 139.80,281.26"/>
<polygon fill="#2f4f7c" stroke="#1c2c4e" stroke-width="0.5" stroke-linejoin="round" points="151.90,268.14 159.10,268.14 155.50,274.26"/>
<polygon fill="#2f4f7c" stroke="#1c2c4e" stroke-width="0.5" stroke-linejoin="round" points="167.60,260.74 174.80,260.74 171.20,266.86"/>
<polygon fill="#2f4f7c" stroke="#1c2c4e" stroke-width="0.5" stroke-linejoin="round" points="183.30,253.24 190.50,253.24 186.90,259.36"/>
<polyline fill="none" stroke="#5a973c" stroke-width="1.5" stroke-linejoin="round" points="61.30,302.50 77.00,306.90 92.70,310.60 108.40,314.90 124.10,319.00 139.80,311.40 155.50,304.50 171.20,297.00 186.90,289.50"/>
<polygon fill="#6cae3a" stroke="#4b8530" stroke-width="0.5" stroke-linejoin="round" points="57.70,305.56 64.90,305.56 61.30,299.44"/>
<polygon fill="#6cae3a" stroke="#4b8530" stroke-width="0.5" stroke-linejoin="round" points="73.40,309.96 80.60,309.96 77.00,303.84"/>
<polygon fill="#6cae3a" stroke="#4b8530" stroke-width="0.5" stroke-linejoin="round" points="89.10,313.66 96.30,313.66 92.70,307.54"/>
<polygon fill="#6cae3a" stroke="#4b8530" stroke-width="0.5" stroke-linejoin="round" points="104.80,317.96 112.00,317.96 108.40,311.84"/>
<polygon fill="#6cae3a" stroke="#4b8530" stroke-width="0.5" stroke-linejoin="round" points="120.50,322.06 127.70,322.06 124.10,315.94"/>
<polygon fill="#6cae3a" stroke="#4b8530" stroke-width="0.5" stroke-linejoin="round" points="136.20,314.46 143.40,314.46 139.80,308.34"/>
<polygon fill="#6cae3a" stroke="#4b8530" stroke-width="0.5" stroke-linejoin="round" points="151.90,307.56 159.10,307.56 155.50,301.44"/>
<polygon fill="#6cae3a" stroke="#4b8530" stroke-width="0.5" stroke-linejoin="round" points="167.60,300.06 174.80,300.06 171.20,293.94"/>
<polygon fill="#6cae3a" stroke="#4b8530" stroke-width="0.5" stroke-linejoin="round" points="183.30,292.56 190.50,292.56 186.90,286.44"/>
<text x="0" y="0" transform="translate(194.50,241.00) scale(0.94,1)" font-size="8.2" text-anchor="start" fill="#1a1a1a" font-family="Liberation Sans, sans-serif" stroke="#1a1a1a" stroke-width="0.25" text-rendering="geometricPrecision" >0%</text>
<text x="0" y="0" transform="translate(194.50,259.00) scale(0.94,1)" font-size="8.2" text-anchor="start" fill="#1a1a1a" font-family="Liberation Sans, sans-serif" stroke="#1a1a1a" stroke-width="0.25" text-rendering="geometricPrecision" >40%</text>
<text x="0" y="0" transform="translate(194.50,292.30) scale(0.94,1)" font-size="8.2" text-anchor="start" fill="#1a1a1a" font-family="Liberation Sans, sans-serif" stroke="#1a1a1a" stroke-width="0.25" text-rendering="geometricPrecision" >80%</text>
<rect x="326.00" y="210.51" width="63.20" height="117.09" fill="#cccccc"/>
<line x1="325.00" y1="208.00" x2="325.00" y2="328.20" stroke="#000" stroke-width="1.3"/>
<line x1="324.40" y1="327.60" x2="485.50" y2="327.60" stroke="#000" stroke-width="1.3"/>
<line x1="325.00" y1="327.60" x2="325.00" y2="331.20" stroke="#000" stroke-width="1"/>
<line x1="340.70" y1="327.60" x2="340.70" y2="329.40" stroke="#000" stroke-width="1"/>
<line x1="356.40" y1="327.60" x2="356.40" y2="331.20" stroke="#000" stroke-width="1"/>
<line x1="372.10" y1="327.60" x2="372.10" y2="329.40" stroke="#000" stroke-width="1"/>
<line x1="387.80" y1="327.60" x2="387.80" y2="331.20" stroke="#000" stroke-width="1"/>
<line x1="403.50" y1="327.60" x2="403.50" y2="329.40" stroke="#000" stroke-width="1"/>
<line x1="419.20" y1="327.60" x2="419.20" y2="331.20" stroke="#000" stroke-width="1"/>
<line x1="434.90" y1="327.60" x2="434.90" y2="329.40" stroke="#000" stroke-width="1"/>
<line x1="450.60" y1="327.60" x2="450.60" y2="331.20" stroke="#000" stroke-width="1"/>
<line x1="466.30" y1="327.60" x2="466.30" y2="329.40" stroke="#000" stroke-width="1"/>
<line x1="482.00" y1="327.60" x2="482.00" y2="331.20" stroke="#000" stroke-width="1"/>
<text x="0" y="0" transform="translate(325.00,341.80) scale(0.9,1)" font-size="8.4" text-anchor="middle" fill="#1a1a1a" font-family="Liberation Sans, sans-serif" stroke="#1a1a1a" stroke-width="0.25" text-rendering="geometricPrecision" >0</text>
<text x="0" y="0" transform="translate(356.40,341.80) scale(0.9,1)" font-size="8.4" text-anchor="middle" fill="#1a1a1a" font-family="Liberation Sans, sans-serif" stroke="#1a1a1a" stroke-width="0.25" text-rendering="geometricPrecision" >2</text>
<text x="0" y="0" transform="translate(387.80,341.80) scale(0.9,1)" font-size="8.4" text-anchor="middle" fill="#1a1a1a" font-family="Liberation Sans, sans-serif" stroke="#1a1a1a" stroke-width="0.25" text-rendering="geometricPrecision" >4</text>
<text x="0" y="0" transform="translate(419.20,341.80) scale(0.9,1)" font-size="8.4" text-anchor="middle" fill="#1a1a1a" font-family="Liberation Sans, sans-serif" stroke="#1a1a1a" stroke-width="0.25" text-rendering="geometricPrecision" >6</text>
<text x="0" y="0" transform="translate(450.60,341.80) scale(0.9,1)" font-size="8.4" text-anchor="middle" fill="#1a1a1a" font-family="Liberation Sans, sans-serif" stroke="#1a1a1a" stroke-width="0.25" text-rendering="geometricPrecision" >8</text>
<text x="0" y="0" transform="translate(482.00,341.80) scale(0.9,1)" font-size="8.4" text-anchor="middle" fill="#1a1a1a" font-family="Liberation Sans, sans-serif" stroke="#1a1a1a" stroke-width="0.25" text-rendering="geometricPrecision" >10</text>
<text x="0" y="0" transform="translate(404.65,354.60) scale(0.89,1)" font-size="10.2" text-anchor="middle" fill="#1a1a1a" font-family="Liberation Sans, sans-serif" stroke="#1a1a1a" stroke-width="0.25" text-rendering="geometricPrecision" >Time (days post-infection)</text>
<line x1="322.00" y1="326.92" x2="325.00" y2="326.92" stroke="#000" stroke-width="1"/>
<line x1="323.40" y1="321.91" x2="325.00" y2="321.91" stroke="#000" stroke-width="0.8"/>
<line x1="323.40" y1="318.99" x2="325.00" y2="318.99" stroke="#000" stroke-width="0.8"/>
<line x1="323.40" y1="316.91" x2="325.00" y2="316.91" stroke="#000" stroke-width="0.8"/>
<line x1="323.40" y1="315.30" x2="325.00" y2="315.30" stroke="#000" stroke-width="0.8"/>
<line x1="323.40" y1="313.98" x2="325.00" y2="313.98" stroke="#000" stroke-width="0.8"/>
<line x1="323.40" y1="312.87" x2="325.00" y2="312.87" stroke="#000" stroke-width="0.8"/>
<line x1="323.40" y1="311.90" x2="325.00" y2="311.90" stroke="#000" stroke-width="0.8"/>
<line x1="323.40" y1="311.05" x2="325.00" y2="311.05" stroke="#000" stroke-width="0.8"/>
<line x1="322.00" y1="310.29" x2="325.00" y2="310.29" stroke="#000" stroke-width="1"/>
<line x1="323.40" y1="305.28" x2="325.00" y2="305.28" stroke="#000" stroke-width="0.8"/>
<line x1="323.40" y1="302.36" x2="325.00" y2="302.36" stroke="#000" stroke-width="0.8"/>
<line x1="323.40" y1="300.28" x2="325.00" y2="300.28" stroke="#000" stroke-width="0.8"/>
<line x1="323.40" y1="298.67" x2="325.00" y2="298.67" stroke="#000" stroke-width="0.8"/>
<line x1="323.40" y1="297.35" x2="325.00" y2="297.35" stroke="#000" stroke-width="0.8"/>
<line x1="323.40" y1="296.24" x2="325.00" y2="296.24" stroke="#000" stroke-width="0.8"/>
<line x1="323.40" y1="295.27" x2="325.00" y2="295.27" stroke="#000" stroke-width="0.8"/>
<line x1="323.40" y1="294.42" x2="325.00" y2="294.42" stroke="#000" stroke-width="0.8"/>
<line x1="322.00" y1="293.66" x2="325.00" y2="293.66" stroke="#000" stroke-width="1"/>
<line x1="323.40" y1="288.65" x2="325.00" y2="288.65" stroke="#000" stroke-width="0.8"/>
<line x1="323.40" y1="285.73" x2="325.00" y2="285.73" stroke="#000" stroke-width="0.8"/>
<line x1="323.40" y1="283.65" x2="325.00" y2="283.65" stroke="#000" stroke-width="0.8"/>
<line x1="323.40" y1="282.04" x2="325.00" y2="282.04" stroke="#000" stroke-width="0.8"/>
<line x1="323.40" y1="280.72" x2="325.00" y2="280.72" stroke="#000" stroke-width="0.8"/>
<line x1="323.40" y1="279.61" x2="325.00" y2="279.61" stroke="#000" stroke-width="0.8"/>
<line x1="323.40" y1="278.64" x2="325.00" y2="278.64" stroke="#000" stroke-width="0.8"/>
<line x1="323.40" y1="277.79" x2="325.00" y2="277.79" stroke="#000" stroke-width="0.8"/>
<line x1="322.00" y1="277.03" x2="325.00" y2="277.03" stroke="#000" stroke-width="1"/>
<line x1="323.40" y1="272.02" x2="325.00" y2="272.02" stroke="#000" stroke-width="0.8"/>
<line x1="323.40" y1="269.10" x2="325.00" y2="269.10" stroke="#000" stroke-width="0.8"/>
<line x1="323.40" y1="267.02" x2="325.00" y2="267.02" stroke="#000" stroke-width="0.8"/>
<line x1="323.40" y1="265.41" x2="325.00" y2="265.41" stroke="#000" stroke-width="0.8"/>
<line x1="323.40" y1="264.09" x2="325.00" y2="264.09" stroke="#000" stroke-width="0.8"/>
<line x1="323.40" y1="262.98" x2="325.00" y2="262.98" stroke="#000" stroke-width="0.8"/>
<line x1="323.40" y1="262.01" x2="325.00" y2="262.01" stroke="#000" stroke-width="0.8"/>
<line x1="323.40" y1="261.16" x2="325.00" y2="261.16" stroke="#000" stroke-width="0.8"/>
<line x1="322.00" y1="260.40" x2="325.00" y2="260.40" stroke="#000" stroke-width="1"/>
<line x1="323.40" y1="255.39" x2="325.00" y2="255.39" stroke="#000" stroke-width="0.8"/>
<line x1="323.40" y1="252.47" x2="325.00" y2="252.47" stroke="#000" stroke-width="0.8"/>
<line x1="323.40" y1="250.39" x2="325.00" y2="250.39" stroke="#000" stroke-width="0.8"/>
<line x1="323.40" y1="248.78" x2="325.00" y2="248.78" stroke="#000" stroke-width="0.8"/>
<line x1="323.40" y1="247.46" x2="325.00" y2="247.46" stroke="#000" stroke-width="0.8"/>
<line x1="323.40" y1="246.35" x2="325.00" y2="246.35" stroke="#000" stroke-width="0.8"/>
<line x1="323.40" y1="245.38" x2="325.00" y2="245.38" stroke="#000" stroke-width="0.8"/>
<line x1="323.40" y1="244.53" x2="325.00" y2="244.53" stroke="#000" stroke-width="0.8"/>
<line x1="322.00" y1="243.77" x2="325.00" y2="243.77" stroke="#000" stroke-width="1"/>
<line x1="323.40" y1="238.76" x2="325.00" y2="238.76" stroke="#000" stroke-width="0.8"/>
<line x1="323.40" y1="235.84" x2="325.00" y2="235.84" stroke="#000" stroke-width="0.8"/>
<line x1="323.40" y1="233.76" x2="325.00" y2="233.76" stroke="#000" stroke-width="0.8"/>
<line x1="323.40" y1="232.15" x2="325.00" y2="232.15" stroke="#000" stroke-width="0.8"/>
<line x1="323.40" y1="230.83" x2="325.00" y2="230.83" stroke="#000" stroke-width="0.8"/>
<line x1="323.40" y1="229.72" x2="325.00" y2="229.72" stroke="#000" stroke-width="0.8"/>
<line x1="323.40" y1="228.75" x2="325.00" y2="228.75" stroke="#000" stroke-width="0.8"/>
<line x1="323.40" y1="227.90" x2="325.00" y2="227.90" stroke="#000" stroke-width="0.8"/>
<line x1="322.00" y1="227.14" x2="325.00" y2="227.14" stroke="#000" stroke-width="1"/>
<line x1="323.40" y1="222.13" x2="325.00" y2="222.13" stroke="#000" stroke-width="0.8"/>
<line x1="323.40" y1="219.21" x2="325.00" y2="219.21" stroke="#000" stroke-width="0.8"/>
<line x1="323.40" y1="217.13" x2="325.00" y2="217.13" stroke="#000" stroke-width="0.8"/>
<line x1="323.40" y1="215.52" x2="325.00" y2="215.52" stroke="#000" stroke-width="0.8"/>
<line x1="323.40" y1="214.20" x2="325.00" y2="214.20" stroke="#000" stroke-width="0.8"/>
<line x1="323.40" y1="213.09" x2="325.00" y2="213.09" stroke="#000" stroke-width="0.8"/>
<line x1="323.40" y1="212.12" x2="325.00" y2="212.12" stroke="#000" stroke-width="0.8"/>
<line x1="323.40" y1="211.27" x2="325.00" y2="211.27" stroke="#000" stroke-width="0.8"/>
<line x1="322.00" y1="210.51" x2="325.00" y2="210.51" stroke="#000" stroke-width="1"/>
<text x="0" y="0" transform="translate(318.20,330.02) scale(0.985,1)" font-size="8.4" text-anchor="end" fill="#1a1a1a" font-family="Liberation Sans, sans-serif" stroke="#1a1a1a" stroke-width="0.25" text-rendering="geometricPrecision" >0.0001</text>
<text x="0" y="0" transform="translate(318.20,313.39) scale(0.985,1)" font-size="8.4" text-anchor="end" fill="#1a1a1a" font-family="Liberation Sans, sans-serif" stroke="#1a1a1a" stroke-width="0.25" text-rendering="geometricPrecision" >0.001</text>
<text x="0" y="0" transform="translate(318.20,296.76) scale(0.985,1)" font-size="8.4" text-anchor="end" fill="#1a1a1a" font-family="Liberation Sans, sans-serif" stroke="#1a1a1a" stroke-width="0.25" text-rendering="geometricPrecision" >0.01</text>
<text x="0" y="0" transform="translate(318.20,280.13) scale(0.985,1)" font-size="8.4" text-anchor="end" fill="#1a1a1a" font-family="Liberation Sans, sans-serif" stroke="#1a1a1a" stroke-width="0.25" text-rendering="geometricPrecision" >0.1</text>
<text x="0" y="0" transform="translate(318.20,263.50) scale(0.9,1)" font-size="8.4" text-anchor="end" fill="#1a1a1a" font-family="Liberation Sans, sans-serif" stroke="#1a1a1a" stroke-width="0.25" text-rendering="geometricPrecision" >1</text>
<text x="0" y="0" transform="translate(318.20,246.87) scale(0.9,1)" font-size="8.4" text-anchor="end" fill="#1a1a1a" font-family="Liberation Sans, sans-serif" stroke="#1a1a1a" stroke-width="0.25" text-rendering="geometricPrecision" >10</text>
<text x="0" y="0" transform="translate(318.20,230.24) scale(0.9,1)" font-size="8.4" text-anchor="end" fill="#1a1a1a" font-family="Liberation Sans, sans-serif" stroke="#1a1a1a" stroke-width="0.25" text-rendering="geometricPrecision" >100</text>
<text x="0" y="0" transform="translate(318.20,213.61) scale(0.9,1)" font-size="8.4" text-anchor="end" fill="#1a1a1a" font-family="Liberation Sans, sans-serif" stroke="#1a1a1a" stroke-width="0.25" text-rendering="geometricPrecision" >1000</text>
<text transform="translate(287.2,267.9) rotate(-90) scale(0.842,1)" font-size="10.6" text-anchor="middle" fill="#1a1a1a" font-family="Liberation Sans, sans-serif" stroke="#1a1a1a" stroke-width="0.25" text-rendering="geometricPrecision">Pca parasitemia (%)</text>
<text x="0" y="0" transform="translate(330.30,220.90) scale(0.97,1)" font-size="8.0" text-anchor="start" fill="#1a1a1a" font-family="Liberation Sans, sans-serif" stroke="#1a1a1a" stroke-width="0.25" text-rendering="geometricPrecision" >Period of</text>
<text x="0" y="0" transform="translate(330.30,230.40) scale(0.97,1)" font-size="8.0" text-anchor="start" fill="#1a1a1a" font-family="Liberation Sans, sans-serif" stroke="#1a1a1a" stroke-width="0.25" text-rendering="geometricPrecision" >platelet killing</text>
<polyline fill="none" stroke="#8f0e31" stroke-width="1.5" stroke-linejoin="round" points="325.00,297.60 387.80,267.90 403.50,260.80 419.20,252.80 434.90,245.40 450.60,238.10"/>
<rect x="321.80" y="294.40" width="6.4" height="6.4" fill="#b20f39" stroke="#7e0a2a" stroke-width="0.6"/>
<rect x="384.60" y="264.70" width="6.4" height="6.4" fill="#b20f39" stroke="#7e0a2a" stroke-width="0.6"/>
<rect x="400.30" y="257.60" width="6.4" height="6.4" fill="#b20f39" stroke="#7e0a2a" stroke-width="0.6"/>
<rect x="416.00" y="249.60" width="6.4" height="6.4" fill="#b20f39" stroke="#7e0a2a" stroke-width="0.6"/>
<rect x="431.70" y="242.20" width="6.4" height="6.4" fill="#b20f39" stroke="#7e0a2a" stroke-width="0.6"/>
<rect x="447.40" y="234.90" width="6.4" height="6.4" fill="#b20f39" stroke="#7e0a2a" stroke-width="0.6"/>
<polyline fill="none" stroke="#1e3052" stroke-width="1.5" stroke-linejoin="round" points="325.00,297.60 387.80,267.90 403.50,254.80 419.20,239.80"/>
<polygon fill="#2f4f7c" stroke="#1c2c4e" stroke-width="0.5" stroke-linejoin="round" points="321.40,300.66 328.60,300.66 325.00,294.54"/>
<polygon fill="#2f4f7c" stroke="#1c2c4e" stroke-width="0.5" stroke-linejoin="round" points="384.20,270.96 391.40,270.96 387.80,264.84"/>
<polygon fill="#2f4f7c" stroke="#1c2c4e" stroke-width="0.5" stroke-linejoin="round" points="399.90,257.86 407.10,257.86 403.50,251.74"/>
<polygon fill="#2f4f7c" stroke="#1c2c4e" stroke-width="0.5" stroke-linejoin="round" points="415.60,242.86 422.80,242.86 419.20,236.74"/>
<polyline fill="none" stroke="#76ae50" stroke-width="1.7" stroke-linejoin="round" points="325.00,297.60 387.80,267.90 403.50,247.40 419.20,228.80"/>
<g>
<polygon fill="#6cae3a" stroke="#4b8530" stroke-width="0.5" stroke-linejoin="round" points="321.40,294.54 328.60,294.54 325.00,300.66"/>
<polygon fill="#6cae3a" stroke="#4b8530" stroke-width="0.5" stroke-linejoin="round" points="384.20,264.84 391.40,264.84 387.80,270.96"/>
<polygon fill="#6cae3a" stroke="#4b8530" stroke-width="0.5" stroke-linejoin="round" points="399.90,244.34 407.10,244.34 403.50,250.46"/>
<polygon fill="#6cae3a" stroke="#4b8530" stroke-width="0.5" stroke-linejoin="round" points="415.60,225.74 422.80,225.74 419.20,231.86"/>
</g>
<text x="0" y="0" transform="translate(425.20,229.00) scale(0.94,1)" font-size="8.2" text-anchor="start" fill="#1a1a1a" font-family="Liberation Sans, sans-serif" stroke="#1a1a1a" stroke-width="0.25" text-rendering="geometricPrecision" >80%</text>
<text x="0" y="0" transform="translate(423.30,239.60) scale(0.94,1)" font-size="8.2" text-anchor="start" fill="#1a1a1a" font-family="Liberation Sans, sans-serif" stroke="#1a1a1a" stroke-width="0.25" text-rendering="geometricPrecision" >40%</text>
<text x="0" y="0" transform="translate(458.20,241.30) scale(0.94,1)" font-size="8.2" text-anchor="start" fill="#1a1a1a" font-family="Liberation Sans, sans-serif" stroke="#1a1a1a" stroke-width="0.25" text-rendering="geometricPrecision" >0%</text>
</svg>
</body></html>
